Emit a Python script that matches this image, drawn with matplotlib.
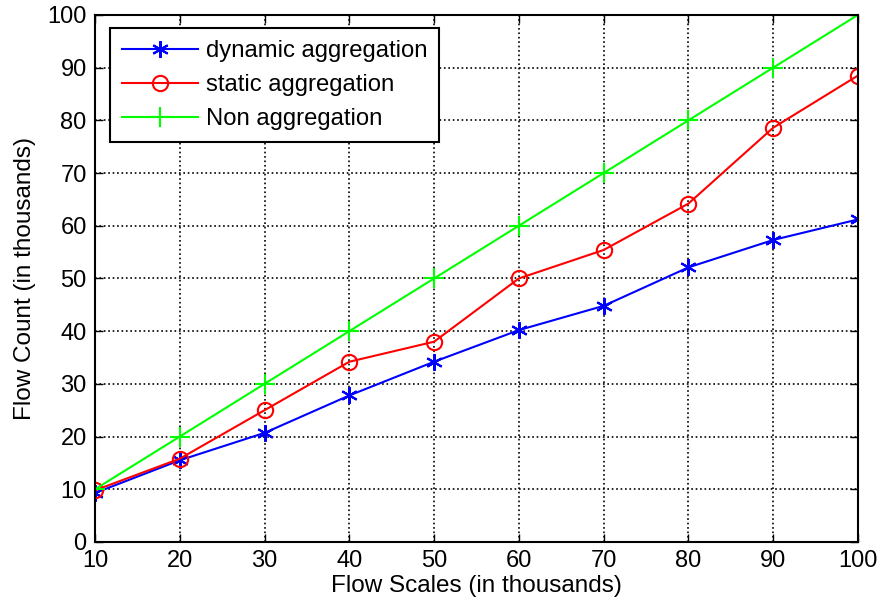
import numpy as np
import matplotlib.pyplot as plt

plt.rcParams['font.family'] = ['Liberation Sans', 'DejaVu Sans']

# Data (in thousands)
flow_scales = [10, 20, 30, 40, 50, 60, 70, 80, 90, 100]
dynamic_agg = [9.3, 15.5, 20.7, 27.8, 34.2, 40.2, 44.8, 52.1, 57.3, 61.2]
static_agg = [9.8, 15.8, 25.0, 34.2, 38.0, 50.0, 55.4, 64.2, 78.6, 88.5]
non_agg = [10, 20, 30, 40, 50, 60, 70, 80, 90, 100]

fig = plt.figure(figsize=(8.82, 6.10), dpi=100)
ax = fig.add_axes([0.1077, 0.1115, 0.865, 0.864])

# MATLAB-style asterisk marker
ax.plot(flow_scales, dynamic_agg, color='#0000ff', marker=(6, 2, 0), markersize=12,
        markeredgewidth=1.5, linewidth=1.5, label='dynamic aggregation')
ax.plot(flow_scales, static_agg, color='#ff0000', marker='o', markersize=11,
        markerfacecolor='none', markeredgewidth=1.5, linewidth=1.5, label='static aggregation')
ax.plot(flow_scales, non_agg, color='#00ff00', marker='+', markersize=14,
        markeredgewidth=1.5, linewidth=1.5, label='Non aggregation')

ax.set_xlim(10, 100)
ax.set_ylim(0, 100)
ax.set_xticks(np.arange(10, 101, 10))
ax.set_yticks(np.arange(0, 101, 10))
ax.tick_params(direction='in', top=True, right=True, labelsize=17, length=6, width=1, pad=6)
ax.grid(True, color='black', linestyle=':', linewidth=1.2)
for s in ax.spines.values():
    s.set_linewidth(1.5)

ax.set_xlabel('Flow Scales (in thousands)', fontsize=17.5, labelpad=2)
ax.set_ylabel('Flow Count (in thousands)', fontsize=17.5, labelpad=8)

leg = ax.legend(loc='upper left', bbox_to_anchor=(0.0197, 0.975), fontsize=17.2,
                fancybox=False, framealpha=1, edgecolor='black',
                handlelength=3.2, borderpad=0.5, labelspacing=0.5,
                handletextpad=0.3, borderaxespad=0)
leg.get_frame().set_linewidth(1.5)

fig.savefig('out.png', dpi=100)
